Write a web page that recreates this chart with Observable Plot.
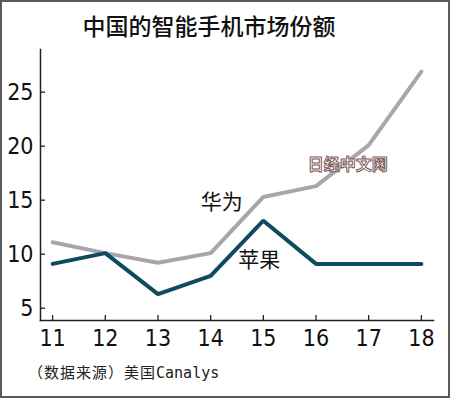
<!DOCTYPE html>
<html><head><meta charset="utf-8">
<script src="https://cdn.jsdelivr.net/npm/d3@7"></script>
<script src="https://cdn.jsdelivr.net/npm/@observablehq/plot@0.6"></script>
<style>
body{margin:0;background:#fff;}
#wrap{position:relative;width:450px;height:398px;overflow:hidden;background:#fff;}
#wrap svg{position:absolute;left:0;top:0;}
#border{position:absolute;left:0;top:0;width:450px;height:398px;box-sizing:border-box;border:2px solid #5a5a5a;pointer-events:none;}
#title{position:absolute;left:0;width:418px;top:10px;text-align:center;font-family:"Noto Sans CJK SC";font-size:23px;font-weight:500;color:#111;line-height:30px;}
#caption{position:absolute;left:28px;top:362px;font-family:"Noto Sans CJK SC";font-size:15px;color:#222;line-height:20px;letter-spacing:1px;}
#caption .m{font-family:"DejaVu Sans Mono";font-size:15px;letter-spacing:0;}
</style></head>
<body>
<div id="wrap">
<div id="title"></div>
<div id="caption"></div>
<div id="border"></div>
</div>
<script>
const years = [11, 12, 13, 14, 15, 16, 17, 18];
const huawei = [11.1, 10.1, 9.2, 10.1, 15.3, 16.3, 20.1, 26.9];
const apple = [9.1, 10.1, 6.3, 8.0, 13.1, 9.1, 9.1, 9.1];
const yTicks = [5, 10, 15, 20, 25];
const titleText = "中国的智能手机市场份额";
const captionText = "（数据来源）美国";
const captionSource = "Canalys";
const seriesNames = ["华为", "苹果"];
const seriesColors = ["#a8a6ab", "#0f4b5f"];
const labelPos = [{x: 14.21, y: 14.8}, {x: 14.92, y: 9.4}];
const watermark = {text: "日经中文网", x: 16.6, y: 18.3};

document.getElementById("title").textContent = titleText;
const cap = document.getElementById("caption");
cap.appendChild(document.createTextNode(captionText));
const sp = document.createElement("span"); sp.className = "m"; sp.textContent = captionSource; cap.appendChild(sp);

const rows = [];
years.forEach((y, i) => {
  rows.push({year: y, value: huawei[i], s: seriesNames[0]});
  rows.push({year: y, value: apple[i], s: seriesNames[1]});
});
const labels = seriesNames.map((n, i) => ({name: n, x: labelPos[i].x, y: labelPos[i].y}));

const tickFont = {fontFamily: "'Liberation Sans Narrow','DejaVu Sans Condensed',sans-serif", fontSize: 23};

const chart = Plot.plot({
  width: 450, height: 398,
  marginLeft: 40, marginRight: 17, marginTop: 49, marginBottom: 78,
  style: {background: "transparent", color: "#111"},
  x: {domain: [10.77, 18.23]},
  y: {domain: [3.86, 28.95]},
  color: {domain: seriesNames, range: seriesColors},
  marks: [
    Plot.frame({anchor: "left", stroke: "#222", strokeWidth: 1.5}),
    Plot.frame({anchor: "bottom", stroke: "#222", strokeWidth: 1.5}),
    Plot.axisY(yTicks, {tickSize: 5, dx: 5, tickFormat: () => "", stroke: "#222", strokeWidth: 1.3, label: null}),
    Plot.axisY(yTicks, {tickSize: 0, tickPadding: 7, label: null, fill: "#111", ...tickFont}),
    Plot.axisX(years, {tickSize: 5, dy: -5, tickFormat: () => "", stroke: "#222", strokeWidth: 1.3, label: null}),
    Plot.axisX(years, {tickSize: 0, tickPadding: 9, label: null, fill: "#111", ...tickFont}),
    Plot.line(rows, {x: "year", y: "value", z: "s", stroke: "s", strokeWidth: 4, strokeLinejoin: "miter", strokeLinecap: "round"}),
    Plot.text([watermark], {x: "x", y: "y", text: "text", fontSize: 16, fontWeight: "bold", fontFamily: "Noto Sans CJK SC", fill: "#fff", stroke: "#7a5656", strokeWidth: 1, paintOrder: "fill"}),
    Plot.text(labels, {x: "x", y: "y", text: "name", fontSize: 21, fontFamily: "Noto Sans CJK SC", fill: "#111"})
  ]
});
document.getElementById("wrap").insertBefore(chart, document.getElementById("title"));
</script>
</body></html>
